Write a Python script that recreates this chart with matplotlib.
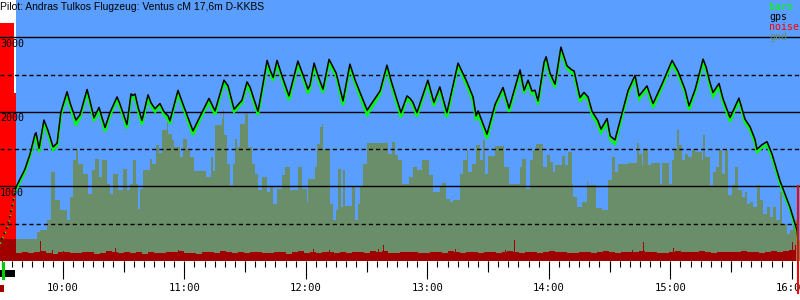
import matplotlib
matplotlib.use("Agg")
import matplotlib.pyplot as plt
import numpy as np
from matplotlib.patches import Rectangle

# ---------------- data (times in minutes since midnight, altitudes in m) ----------------
gps_t = [576.9, 581.3, 583.8, 586.3, 586.8, 588.3, 590.7, 592.7, 595.2, 597.2, 599.1, 602.1,
         603.6, 606.5, 608.5, 612.0, 613.4, 615.4, 617.9, 619.4, 620.9, 623.3, 626.8, 628.3,
         631.7, 633.7, 634.7, 635.7, 637.2, 639.1, 642.1, 643.6, 645.6, 646.5, 648.0, 650.0,
         652.0, 652.9, 656.9, 659.4, 664.3, 667.8, 672.2, 675.2, 679.6, 681.6, 684.6, 688.5,
         691.0, 692.5, 696.4, 698.4, 700.9, 702.4, 703.9, 705.8, 708.3, 711.7, 716.1, 718.6,
         721.1, 722.1, 724.1, 726.1, 728.5, 731.5, 735.0, 738.4, 741.8, 744.3, 750.3, 756.7,
         760.1, 762.1, 767.0, 770.0, 771.5, 772.9, 774.9, 780.3, 783.3, 786.2, 789.7, 795.2,
         799.6, 802.6, 804.1, 805.1, 809.5, 813.5, 817.4, 820.4, 825.8, 827.8, 829.8, 831.7,
         833.2, 834.7, 837.7, 838.7, 840.6, 843.1, 846.0, 849.0, 851.5, 852.5, 855.4, 857.4,
         859.4, 861.4, 864.3, 865.8, 868.8, 870.3, 872.7, 879.2, 882.6, 884.6, 888.5, 891.5,
         895.9, 900.9, 903.9, 907.3, 909.3, 912.3, 916.2, 917.7, 919.6, 921.1, 924.1, 926.0,
         929.5, 931.0, 933.9, 936.9, 939.4, 941.8, 942.8, 945.3, 947.8, 950.3, 954.2, 959.2,
         962.6, 963.1]
gps_alt = [990, 1230, 1430, 1700, 1720, 1510, 1890, 1750, 1530, 1580, 2000, 2270, 2120, 1890,
           1960, 2300, 2150, 1920, 2060, 1920, 1790, 1990, 2200, 2100, 1830, 2240, 2220, 2240,
           2060, 1885, 2228, 2120, 2040, 2070, 2111, 2000, 1946, 1880, 2288, 2100, 1745,
           1940, 2180, 2013, 2425, 2350, 2035, 2156, 2402, 2330, 2006, 2300, 2690, 2560,
           2461, 2690, 2480, 2214, 2681, 2500, 2304, 2360, 2654, 2480, 2304, 2704, 2520, 2147,
           2640, 2430, 2023, 2280, 2626, 2420, 1990, 2214, 2180, 2130, 1990, 2425, 2125, 2335,
           1990, 2654, 2400, 2200, 1946, 2013, 1700, 2100, 2327, 2050, 2562, 2288, 2425, 2280,
           2290, 2147, 2667, 2738, 2520, 2371, 2868, 2617, 2560, 2550, 2192, 2260, 2200,
           2006, 1880, 1768, 1910, 1678, 1624, 2288, 2489, 2214, 2348, 2111, 2370, 2690, 2540,
           2300, 2080, 2300, 2707, 2600, 2393, 2260, 2381, 2180, 1923, 2010, 2184, 1902, 1800, 1633,
           1499, 1560, 1600, 1431, 1074, 716, 409, 275]
baro_alt = [960, 1195, 1400, 1650, 1680, 1460, 1850, 1710, 1490, 1550, 1960, 2220, 2080, 1820,
            1920, 2260, 2110, 1880, 2020, 1880, 1740, 1950, 2160, 2060, 1780, 2200, 2180, 2200,
            2010, 1830, 2190, 2080, 2000, 2040, 2070, 1960, 1900, 1840, 2250, 2060, 1690,
            1900, 2140, 1960, 2390, 2310, 2000, 2120, 2360, 2290, 1960, 2260, 2640, 2520,
            2420, 2650, 2440, 2160, 2640, 2460, 2250, 2320, 2610, 2440, 2260, 2660, 2480, 2090,
            2600, 2390, 1960, 2240, 2590, 2380, 1930, 2180, 2140, 2090, 1940, 2390, 2080, 2300,
            1930, 2620, 2350, 2150, 1890, 1970, 1640, 2060, 2290, 2000, 2520, 2250, 2390, 2240,
            2250, 2100, 2630, 2700, 2480, 2330, 2830, 2580, 2520, 2510, 2140, 2220, 2160,
            1960, 1830, 1720, 1870, 1630, 1570, 2250, 2450, 2170, 2310, 2060, 2330, 2650, 2500,
            2260, 2030, 2260, 2660, 2560, 2350, 2210, 2340, 2140, 1870, 1970, 2150, 1860, 1760, 1590,
            1460, 1520, 1560, 1390, 1040, 690, 390, 260]

# part of the climb before the recorded window (drawn dotted)
pre_t = [569.0, 572.5, 574.9, 576.9]
pre_gps = [250, 450, 720, 990]
pre_baro = [230, 430, 700, 960]

gnd_t = [576.9, 581.3, 587.3, 588.8, 592.2, 594.2, 596.2, 598.6, 602.1, 603.6, 605.1, 606.5,
         607.5, 610.0, 612.5, 614.4, 615.9, 617.9, 619.4, 621.8, 623.3, 624.8, 627.3, 629.8,
         631.7, 633.2, 634.7, 636.2, 637.2, 638.2, 639.6, 643.1, 644.1, 646.0, 647.5, 649.0,
         651.5, 652.0, 653.9, 654.9, 657.9, 659.4, 661.4, 662.9, 664.8, 666.3, 670.7, 673.2,
         674.2, 675.2, 678.6, 679.1, 679.6, 681.1, 682.6, 684.1, 685.1, 686.0, 687.5, 690.0,
         691.5, 693.4, 694.9, 696.4, 698.4, 700.9, 702.4, 703.9, 705.8, 708.3, 709.8, 712.2,
         716.1, 718.1, 720.6, 721.1, 724.6, 725.6, 727.1, 728.0, 728.5, 732.0, 733.5, 735.0,
         736.0, 737.4, 738.4, 739.4, 742.8, 744.3, 745.8, 746.8, 748.3, 750.3, 760.6, 762.6,
         764.1, 765.6, 767.5, 771.0, 772.9, 774.9, 777.4, 780.8, 782.8, 786.2, 787.2, 789.2,
         791.2, 792.7, 796.1, 797.7, 799.6, 800.1, 802.1, 804.1, 806.0, 807.5, 808.5, 810.0,
         813.5, 817.9, 820.4, 825.8, 826.8, 828.8, 830.7, 832.2, 833.7, 837.2, 839.1, 840.6,
         842.1, 843.1, 846.5, 848.0, 849.5, 851.5, 852.0, 854.0, 856.4, 858.9, 859.4, 863.3,
         866.3, 869.3, 871.2, 872.7, 874.2, 879.2, 883.6, 884.6, 886.0, 886.5, 889.0, 890.5,
         894.9, 895.9, 899.4, 900.9, 901.9, 903.4, 904.4, 905.8, 907.3, 908.8, 910.8, 912.3,
         915.7, 916.2, 917.2, 919.6, 921.1, 922.6, 924.1, 925.5, 927.0, 928.5, 930.5, 931.9,
         933.4, 935.4, 936.9, 937.9, 939.4, 940.8, 942.8, 944.3, 945.8, 947.8, 949.3, 950.8,
         952.3, 954.2, 955.2, 957.7, 959.2, 960.7, 962.6, 964.1]
gnd_alt = [298, 300, 387, 410, 544, 1192, 812, 678, 544, 856, 1349, 1483, 1304, 1170,
           902, 1214, 1372, 1125, 1349, 1036, 902, 1170, 946, 1237, 946, 1036, 1349, 1036,
           700, 969, 1214, 1372, 1304, 1550, 1447, 1751, 1863, 1707, 1620, 1527, 1390,
           1640, 1500, 1393, 1210, 1201, 1125, 1393, 1210, 1818, 1900, 2020, 1684, 1300, 1013, 1304,
           1640, 1527, 1832, 1975, 1527, 1304, 1170, 946, 1125, 930, 990, 768, 969, 1147,
           1259, 955, 1259, 969, 790, 1103, 1259, 1573, 1796, 1841, 1506, 768, 544, 680,
           1237, 722, 1214, 731, 990, 544, 768, 990, 1304, 1586, 1440, 1594, 1420, 1349,
           1036, 1125, 1259, 1214, 1358, 1147, 923, 990, 1044, 835, 790, 812, 1170, 1349,
           1483, 1190, 1304, 1550, 1349, 1617, 1170, 1402, 1537, 1259, 1027, 1259, 1372,
           969, 1349, 1483, 1564, 1259, 1416, 1330, 1190, 1282, 1402, 1282, 1460, 1036, 856,
           722, 789, 1060, 1013, 709, 678, 1090, 1393, 1190, 1304, 1313, 1586, 1440,
           1282, 1506, 1282, 1313, 1036, 1313, 1036, 1349, 1506, 1751, 1550, 1349, 1439, 1393,
           1483, 1456, 1349, 1684, 1393, 1013, 1192, 1259, 1483, 1170, 1483, 879, 1013, 1259,
           946, 856, 923, 768, 790, 722, 1013, 812, 633, 722, 590, 722, 544, 923,
           499, 365, 410, 544, 275, 275]

noise_start, noise_step = 576.9, 2.96   # one sample per ~3 minutes
noise_val = [110, 115, 105, 120, 130, 110, 100, 115, 125, 110,
             105, 120, 115, 100, 110, 130, 115, 105, 120, 110,
             115, 100, 125, 110, 105, 120, 115, 140, 110, 105,
             100, 115, 120, 110, 130, 115, 105, 120, 110, 115,
             120, 105, 110, 125, 115, 100, 120, 130, 110, 115,
             105, 120, 115, 110, 125, 105, 115, 120, 110, 130,
             115, 140, 110, 105, 120, 115, 125, 110, 105, 120,
             115, 110, 130, 120, 105, 115, 120, 110, 125, 115,
             110, 120, 135, 115, 105, 120, 115, 110, 125, 130,
             115, 120, 110, 105, 125, 115, 110, 120, 130, 115,
             110, 120, 115, 125, 130, 115, 120, 110, 105, 120,
             130, 115, 125, 120, 135, 115, 110, 120, 125, 115,
             120, 130, 115, 125, 110, 120, 135, 125, 140, 150,
             160]
spike_t = [588.8, 594.7, 600.1, 625.8, 656.9, 723.6, 731.5, 755.7, 758.1, 793.7, 818.4, 822.8,
           881.1, 886.5, 901.4, 960.2, 961.6]
spike_v = [265, 150, 140, 170, 150, 165, 145, 160, 215, 160, 150, 275, 150, 250, 175, 255, 220]

hour_ticks = [600, 660, 720, 780, 840, 900, 960]
half_hour_ticks = [570, 630, 690, 750, 810, 870, 930]
legend_names = ["baro", "gps", "noise", "gnd"]
title = "Pilot: Andras Tulkos Flugzeug: Ventus cM 17,6m D-KKBS"
cursor_t = 963.3

# ---------------- styling ----------------
BLUE = "#5a9eff"
GND = "#6a8e69"
NOISE = "#a00000"
BARO = "#00ff00"
RED = "#ff0000"
MONO = "DejaVu Sans Mono"

fig = plt.figure(figsize=(8, 3), dpi=100)
fig.patch.set_facecolor("white")
ax = fig.add_axes([0, 39 / 300, 1, 261 / 300])
ax.set_facecolor(BLUE)
t0, t1 = 569.0, 964.07
ax.set_xlim(t0, t1)
ax.set_ylim(0, 3500)
for s in ax.spines.values():
    s.set_visible(False)

start = gps_t[0]
px = (t1 - t0) / 800.0
# left strip (outside the recorded window)
ax.axvspan(t0, start, color="white", lw=0, zorder=0.2)
ax.add_patch(Rectangle((t0, 0), start - t0 - 2 * px, 3190, color=RED, lw=0, zorder=0.3))
ax.add_patch(Rectangle((start - 2 * px, 0), 2 * px, 2250, color=RED, lw=0, zorder=0.3))
ax.add_patch(Rectangle((t0, 0), start - t0, 290, color=NOISE, lw=0, zorder=2.5))

# ground
ax.fill_between(gnd_t, 0, gnd_alt, step="post", color=GND, lw=0, zorder=1)
# noise
noise_t = noise_start + noise_step * np.arange(len(noise_val))
ax.fill_between(noise_t, 0, noise_val, step="post", color=NOISE, lw=0, zorder=2)
ax.bar(spike_t, spike_v, width=px, color=NOISE, lw=0, zorder=2, align="edge")

# grid
for v in [1000, 2000, 3000]:
    ax.axhline(v, color="black", lw=1.0, zorder=3)
for v in [500, 1500, 2500]:
    ax.axhline(v, color="black", lw=1.0, ls=(0, (3, 2.2)), zorder=3)

# altitude traces
ax.plot(gps_t, baro_alt, color=BARO, lw=1.8, zorder=4, solid_joinstyle="miter")
ax.plot(gps_t, gps_alt, color="black", lw=1.1, zorder=5)
ax.plot(pre_t, pre_baro, color=BARO, lw=1.2, ls=(0, (1, 2.5)), zorder=5)
ax.plot(pre_t, pre_gps, color="black", lw=1.2, ls=(1.5, (1, 2.5)), zorder=5)

# cursor line
ax.plot([cursor_t, cursor_t], [1000, -0.123 * 3500], color=RED, lw=1.5,
        clip_on=False, zorder=6)

# y labels inside plot
for v in [1000, 2000, 3000]:
    ax.text(t0 + 0.1, v - 18, str(v), fontsize=7.2, family=MONO, va="top", ha="left",
            color="black", zorder=7)

# x axis ticks
ax.set_yticks([])
ax.set_xticks(hour_ticks)
ax.set_xticks(np.arange(570, 965, 5), minor=True)
ax.set_xticklabels([f"{int(m // 60)}:{int(m % 60):02d}" for m in hour_ticks],
                   family=MONO, fontsize=7.6)
ax.tick_params(axis="x", which="major", length=13, width=0.8, direction="out", pad=3,
               color="black")
ax.tick_params(axis="x", which="minor", length=4.3, width=0.8, direction="out",
               color="black")
ax.vlines(half_hour_ticks, -11 / 261, 0, transform=ax.get_xaxis_transform(),
          color="black", lw=0.8, clip_on=False)

# title and legend
fig.text(0.0, 1 - 7.5 / 300, title, fontsize=7.5, family="Liberation Sans",
         ha="left", va="center")
leg_colors = [BARO, "black", RED, GND]
for i, (name, c) in enumerate(zip(legend_names, leg_colors)):
    fig.text(769 / 800, 1 - (7 + 10 * i) / 300, name, fontsize=7.2, family=MONO,
             color=c, ha="left", va="center")

# small indicators bottom-left
def px_rect(x, y, w, h, color):
    fig.patches.append(Rectangle((x / 800, 1 - (y + h) / 300), w / 800, h / 300,
                                 transform=fig.transFigure, color=color, lw=0,
                                 figure=fig))
px_rect(0, 270, 15, 7, "black")
px_rect(2, 262, 2.5, 18, "#00cc00")
px_rect(0, 285, 4, 7, NOISE)

fig.savefig("out.png", dpi=100)
